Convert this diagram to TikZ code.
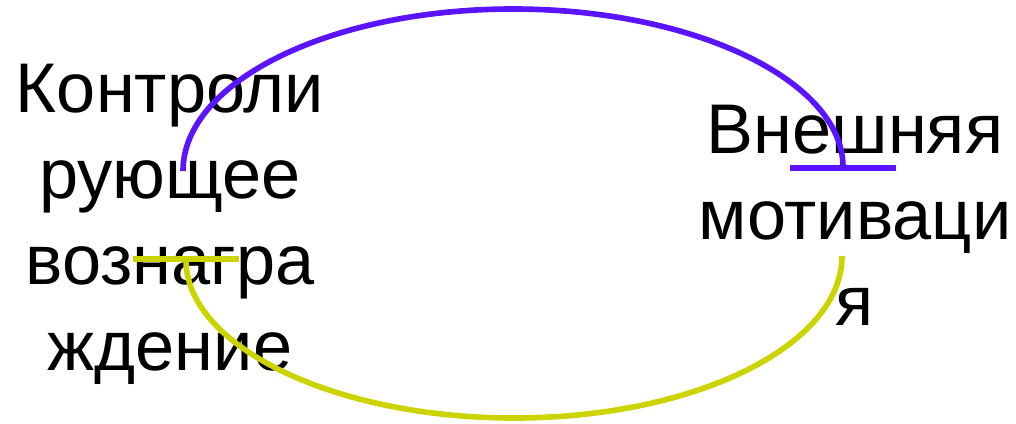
\documentclass[tikz,border=0pt]{standalone}
\usepackage{fontspec}
\setmainfont{Liberation Sans}
\usetikzlibrary{arrows.meta}
\definecolor{purpleline}{RGB}{91,20,255}
\definecolor{limeline}{RGB}{204,212,0}

\begin{document}
\begin{tikzpicture}[x=0.025cm,y=0.025cm,
  lbl/.style={font=\fontsize{50}{61}\selectfont,align=center,inner sep=0pt,anchor=base},
  link/.style={line width=4pt}]
 \useasboundingbox (0,0) rectangle (1016,423);
 \node[lbl] (ctrl) at (170,53) {Контроли\\рующее\\вознагра\\ждение};
 \node[lbl] (ext) at (855,98) {Внешняя\\мотиваци\\я};
 \coordinate (ctrl_top) at (183,252);
 \coordinate (ctrl_bot) at (186,167);
 \draw[link,purpleline,-{Bar[width=76pt]}] 
  (ctrl_top) arc[start angle=180,end angle=0,x radius=330,y radius=162];
 \draw[link,limeline,{Bar[width=76pt]}-] 
  (ctrl_bot) arc[start angle=180,end angle=360,x radius=328,y radius=162];
\end{tikzpicture}
\end{document}
